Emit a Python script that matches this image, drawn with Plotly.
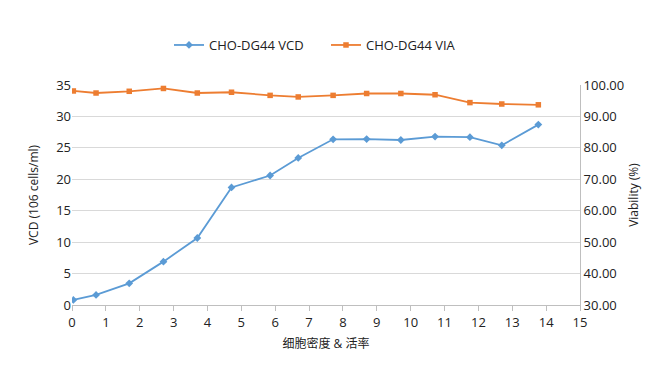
import plotly.graph_objects as go

days = [0.04, 0.71, 1.69, 2.70, 3.70, 4.71, 5.85, 6.68, 7.71, 8.70, 9.71, 10.72, 11.75, 12.69, 13.77]
vcd = [0.8, 1.6, 3.45, 6.9, 10.66, 18.7, 20.6, 23.4, 26.36, 26.4, 26.25, 26.8, 26.7, 25.4, 28.7]
via = [98.1, 97.45, 98.0, 98.9, 97.45, 97.7, 96.7, 96.2, 96.7, 97.3, 97.3, 96.9, 94.4, 93.95, 93.7]
x_ticks = list(range(0, 16))

font_family = "Open Sans, Noto Sans CJK SC, sans-serif"
txt = "#222222"

fig = go.Figure()
fig.add_trace(go.Scatter(
    x=days, y=vcd, name="CHO-DG44 VCD", mode="lines+markers",
    line=dict(color="#5B9BD5", width=1.8),
    marker=dict(symbol="diamond", size=6, color="#5B9BD5"),
    yaxis="y"))
fig.add_trace(go.Scatter(
    x=days, y=via, name="CHO-DG44 VIA", mode="lines+markers",
    line=dict(color="#ED7D31", width=1.8),
    marker=dict(symbol="square", size=5.5, color="#ED7D31"),
    yaxis="y2"))

fig.update_layout(
    width=634, height=356,
    margin=dict(l=64, r=62, t=77, b=59, autoexpand=False),
    paper_bgcolor="white", plot_bgcolor="white",
    font=dict(family=font_family, size=12, color=txt),
    showlegend=True,
    legend=dict(orientation="h", x=0.5, xanchor="center", y=0.896, yanchor="middle",
                yref="container", font=dict(size=13, color=txt),
                entrywidth=112, entrywidthmode="pixels"),
    xaxis=dict(range=[0, 15], tickvals=x_ticks, showgrid=False, zeroline=False,
               showline=True, linecolor="#BFBFBF", linewidth=1,
               ticks="outside", ticklen=5, tickcolor="#BFBFBF",
               tickfont=dict(size=13),
               title=dict(text="细胞密度 & 活率", font=dict(size=12), standoff=10)),
    yaxis=dict(range=[0, 35], dtick=5, showgrid=True, gridcolor="#D9D9D9", gridwidth=1,
               zeroline=False, showline=False, ticks="", tickfont=dict(size=13),
               title=dict(text="VCD (106 cells/ml)", font=dict(size=12), standoff=14)),
    yaxis2=dict(range=[30, 100], dtick=10, overlaying="y", side="right",
                showgrid=False, zeroline=False, tickformat=".2f", tickfont=dict(size=13),
                showline=True, linecolor="#BFBFBF", linewidth=1, ticks="",
                title=dict(text="Viability (%)", font=dict(size=12), standoff=9)),
)
fig.write_html("out.html")
